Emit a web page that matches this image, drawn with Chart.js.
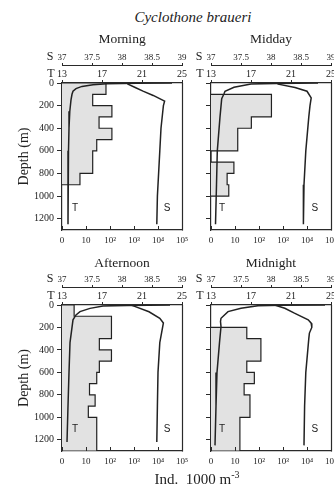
<!DOCTYPE html>
<html><head><meta charset="utf-8">
<script src="https://cdn.jsdelivr.net/npm/chart.js@4.4.1/dist/chart.umd.min.js"></script>
<style>
html,body{margin:0;padding:0;background:#fff;overflow:hidden;width:334px;height:491px}
body{position:relative;font-family:'Liberation Serif','DejaVu Serif',serif;color:#222}
canvas{position:absolute}
.t{position:absolute;white-space:nowrap;transform:translate(-50%,-50%);line-height:1;z-index:2}
</style></head><body>
<div class="t" style="left:193px;top:17px;font-size:15px;font-style:italic">Cyclothone braueri</div>
<div class="t" id="p0" style="left:122px;top:39px;font-size:13.5px"></div>
<div class="t" id="p1" style="left:271px;top:39px;font-size:13.5px"></div>
<div class="t" id="p2" style="left:122px;top:263px;font-size:13.5px"></div>
<div class="t" id="p3" style="left:271px;top:263px;font-size:13.5px"></div>
<div class="t" style="left:197px;top:478px;font-size:15px">Ind.&nbsp; 1000 m<sup style="font-size:10px">-3</sup></div>
<canvas id="c0" width="200" height="210" style="left:0;top:40px"></canvas>
<canvas id="c1" width="160" height="210" style="left:190px;top:40px"></canvas>
<canvas id="c2" width="200" height="209" style="left:0;top:262px"></canvas>
<canvas id="c3" width="160" height="209" style="left:190px;top:262px"></canvas>
<script>
// ---- data ----
const periods = ['Morning', 'Midday', 'Afternoon', 'Midnight'];
const depthTicks = [0, 200, 400, 600, 800, 1000, 1200];
const depthTickLabels = ['0', '200', '400', '600', '800', '1000', '1200'];
const abundTicks = [0, 1, 2, 3, 4, 5];
const abundTickLabels = ['0', '10', '10²', '10³', '10⁴', '10⁵'];
const tempTicks = [13, 17, 21, 25];
const tempTickLabels = ['13', '17', '21', '25'];
const salTicks = [37, 37.5, 38, 38.5, 39];
const salTickLabels = ['37', '37.5', '38', '38.5', '39'];

// abundance (ind. 1000 m-3) per depth bin
const morningEdges = [0, 100, 200, 300, 400, 500, 600, 800, 900];
const morningAbund = [68, 19, 120, 35, 120, 28, 19, 5.6];
const middayEdges = [100, 300, 400, 600, 700, 800, 900, 1000];
const middayAbund = [330, 48, 13, 0, 9, 4.7, 5.5];
const afternoonEdges = [0, 100, 300, 400, 500, 600, 700, 800, 900, 1000, 1300];
const afternoonAbund = [3.2, 115, 36, 115, 36, 28, 14, 24, 12.5, 28];
const midnightEdges = [200, 300, 500, 600, 700, 800, 1000, 1300];
const midnightAbund = [31, 120, 31, 64, 24, 42, 16];

// temperature profiles
const morningTDepth = [0, 3, 6, 15, 30, 50, 73, 100, 150, 250, 400, 600, 900, 1250];
const morningT = [24.0, 20.5, 17.5, 16.1, 15.0, 14.4, 14.1, 14.0, 13.9, 13.78, 13.7, 13.65, 13.6, 13.6];
const middayTDepth = [0, 4, 8, 38, 73, 95, 138, 300, 600, 900, 1250];
const middayT = [23.7, 19.5, 17.0, 15.3, 14.4, 14.3, 14.07, 13.9, 13.63, 13.55, 13.45];
const afternoonTDepth = [0, 4, 8, 30, 59, 88, 132, 335, 600, 900, 1220];
const afternoonT = [23.8, 19.5, 17.1, 15.8, 14.8, 14.4, 14.1, 13.8, 13.7, 13.6, 13.5];
const midnightTDepth = [0, 3, 6, 29, 59, 118, 147, 191, 335, 600, 900, 1250];
const midnightT = [24.4, 20.0, 17.7, 16.0, 14.7, 14.0, 13.95, 14.0, 13.85, 13.6, 13.5, 13.4];

// salinity profiles
const morningSDepth = [0, 10, 40, 72, 110, 160, 200, 250, 400, 600, 800, 1000, 1250];
const morningS = [38.08, 38.1, 38.22, 38.35, 38.52, 38.71, 38.69, 38.68, 38.65, 38.63, 38.61, 38.59, 38.58];
const middaySDepth = [0, 10, 40, 73, 132, 200, 300, 600, 900, 1250];
const middayS = [38.1, 38.12, 38.4, 38.6, 38.67, 38.65, 38.63, 38.58, 38.55, 38.54];
const afternoonSDepth = [0, 10, 60, 118, 160, 335, 600, 900, 1220];
const afternoonS = [38.15, 38.2, 38.45, 38.63, 38.69, 38.63, 38.6, 38.59, 38.58];
const midnightSDepth = [0, 29, 73, 132, 162, 200, 250, 300, 600, 900, 1250];
const midnightS = [38.06, 38.23, 38.39, 38.62, 38.67, 38.68, 38.64, 38.63, 38.58, 38.56, 38.55];

// ---- build ----
const INK = '#2a2a2a';
const SERIF = "'Liberation Serif','DejaVu Serif',serif";

function histPoints(edges, vals) {
  const pts = [{x: 0, y: edges[0]}];
  vals.forEach((v, i) => {
    const p = v > 0 ? Math.log10(v) : 0;
    pts.push({x: p, y: edges[i]}, {x: p, y: edges[i + 1]});
  });
  pts.push({x: 0, y: edges[edges.length - 1]});
  return pts;
}
function profile(depths, vals) {
  return depths.map((d, i) => ({x: vals[i], y: d}));
}

const framePlugin = {
  id: 'frame',
  afterDraw(chart, args, opts) {
    const {ctx, chartArea: a, scales} = chart;
    ctx.save();
    ctx.strokeStyle = INK; ctx.lineWidth = 1.2;
    const r = Math.round(a.right) + 0.5;
    ctx.beginPath(); ctx.moveTo(r, a.top); ctx.lineTo(r, a.bottom + 0.5); ctx.stroke();
    ctx.lineWidth = 1;
    ctx.beginPath();
    scales.x.ticks.forEach(t => {
      const px = Math.round(scales.x.getPixelForValue(t.value)) + 0.5;
      ctx.moveTo(px, a.bottom); ctx.lineTo(px, a.bottom - 4);
    });
    ctx.stroke();
    ctx.fillStyle = '#222'; ctx.textAlign = 'center'; ctx.textBaseline = 'middle';
    ctx.font = '12px ' + SERIF;
    ctx.fillText('S', a.left - 12, scales.xS.bottom - 8);
    ctx.fillText('T', a.left - 11, scales.xT.bottom - 9);
    ctx.font = "10px 'Liberation Sans','DejaVu Sans',sans-serif";
    const yy = scales.y.getPixelForValue(opts.d);
    ctx.fillText('T', scales.xT.getPixelForValue(opts.tx), yy);
    ctx.fillText('S', scales.xS.getPixelForValue(opts.sx), yy);
    ctx.restore();
  }
};

function makeChart(id, left, edges, abund, tD, tV, sD, sV, lbl) {
  const yScale = {
    type: 'linear', axis: 'y', position: 'left', reverse: true, min: 0, max: 1300,
    afterBuildTicks: s => { s.ticks = depthTicks.map(v => ({value: v})); },
    afterFit: s => { s.width = left ? 62 : 21; },
    grid: {drawOnChartArea: false, tickLength: 5, color: INK},
    border: {display: true, color: INK, width: 1.2},
    ticks: {display: left, padding: 3, color: '#222', font: {family: SERIF, size: 10},
            callback: (v, i) => depthTickLabels[i]},
    title: {display: left, text: 'Depth (m)', color: '#222', font: {family: SERIF, size: 14}, padding: {top: 16, bottom: 0}}
  };
  return new Chart(document.getElementById(id), {
    type: 'line',
    data: {datasets: [
      {data: profile(tD, tV), xAxisID: 'xT', yAxisID: 'y', borderColor: '#222', borderWidth: 1.5, pointRadius: 0, fill: false, order: 0},
      {data: profile(sD, sV), xAxisID: 'xS', yAxisID: 'y', borderColor: '#222', borderWidth: 1.5, pointRadius: 0, fill: false, order: 0},
      {data: histPoints(edges, abund), xAxisID: 'x', yAxisID: 'y', borderColor: '#222', borderWidth: 1.2, pointRadius: 0,
       backgroundColor: '#e2e2e2', fill: 'origin', order: 2}
    ]},
    options: {
      responsive: false, animation: false, indexAxis: 'y',
      layout: {padding: {top: 5, right: left ? 18 : 19, bottom: 0, left: 0}},
      plugins: {legend: {display: false}, tooltip: {enabled: false}, frame: lbl},
      elements: {line: {tension: 0}},
      scales: {
        y: yScale,
        x: {
          type: 'linear', axis: 'x', position: 'bottom', min: 0, max: 5,
          afterBuildTicks: s => { s.ticks = abundTicks.map(v => ({value: v})); },
          afterFit: s => { s.height = 20; },
          grid: {drawOnChartArea: false, drawTicks: false},
          border: {display: true, color: INK, width: 1.2},
          ticks: {padding: 5, color: '#222', font: {family: SERIF, size: 9}, maxRotation: 0,
                  callback: (v, i) => abundTickLabels[i]}
        },
        xT: {
          type: 'linear', axis: 'x', position: 'top', min: 13, max: 25, weight: 0,
          afterBuildTicks: s => { s.ticks = tempTicks.map(v => ({value: v})); },
          afterFit: s => { s.height = 18; },
          grid: {drawOnChartArea: false, tickLength: 3, color: INK},
          border: {display: true, color: INK, width: 1.2},
          ticks: {padding: 0, color: '#222', font: {family: SERIF, size: 10}, maxRotation: 0,
                  callback: (v, i) => tempTickLabels[i]}
        },
        xS: {
          type: 'linear', axis: 'x', position: 'top', min: 37, max: 39, weight: 1,
          afterBuildTicks: s => { s.ticks = salTicks.map(v => ({value: v})); },
          afterFit: s => { s.height = 20; },
          grid: {drawOnChartArea: false, tickLength: 2, color: INK},
          border: {display: true, color: INK, width: 1},
          ticks: {padding: 0, color: '#222', font: {family: SERIF, size: 9}, maxRotation: 0,
                  callback: (v, i) => salTickLabels[i]}
        }
      }
    },
    plugins: [framePlugin]
  });
}

periods.forEach((p, i) => { document.getElementById('p' + i).textContent = p; });
makeChart('c0', true, morningEdges, morningAbund, morningTDepth, morningT, morningSDepth, morningS, {tx: 14.3, sx: 38.75, d: 1110});
makeChart('c1', false, middayEdges, middayAbund, middayTDepth, middayT, middaySDepth, middayS, {tx: 14.1, sx: 38.73, d: 1110});
makeChart('c2', true, afternoonEdges, afternoonAbund, afternoonTDepth, afternoonT, afternoonSDepth, afternoonS, {tx: 14.3, sx: 38.75, d: 1110});
makeChart('c3', false, midnightEdges, midnightAbund, midnightTDepth, midnightT, midnightSDepth, midnightS, {tx: 14.1, sx: 38.73, d: 1110});
</script>
</body></html>
